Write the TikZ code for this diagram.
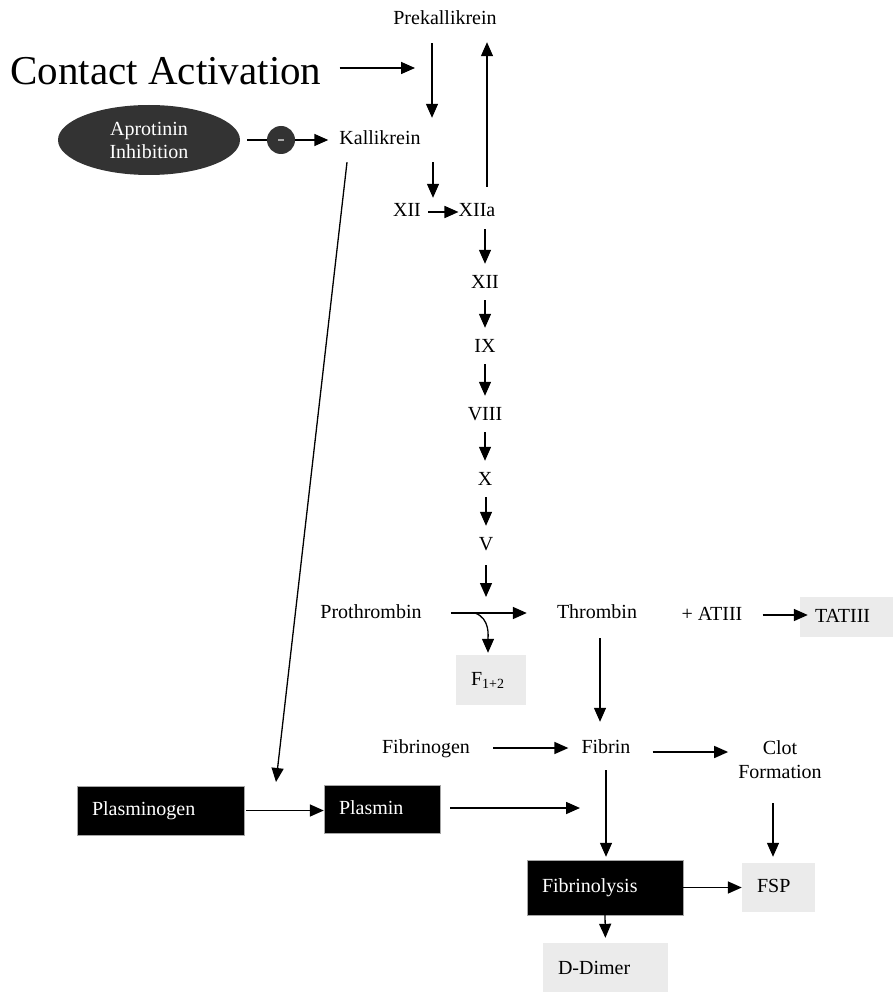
\documentclass[tikz,border=0pt]{standalone}
\usepackage{fontspec}
\setmainfont{Liberation Serif}
\usepackage{xcolor}
\usepackage{tikz}
\usetikzlibrary{shapes.geometric, arrows.meta, positioning}
\definecolor{inhibgray}{HTML}{333333}
\definecolor{minusgray}{HTML}{A8A8A8}
\definecolor{productbox}{HTML}{EBEBEB}

\begin{document}
\begin{tikzpicture}[x=1pt, y=-1pt,
    factor/.style={font=\fontsize{20}{24}\selectfont, inner sep=0pt, text height=14pt, text depth=4pt},
    darkbox/.style={factor, draw=gray!70, fill=black, text=white, align=left, inner xsep=15pt},
    lightbox/.style={factor, fill=productbox, align=left, inner xsep=15pt},
    flow/.style={-{Triangle[length=14pt, width=12pt]}, line width=1.6pt},
    thinflow/.style={flow, line width=1.3pt}
]
\fill[white] (0,0) rectangle (893,992);
\useasboundingbox (0,0) rectangle (893,992);

\node[inner sep=0pt, font=\fontsize{41}{48}\selectfont] (ca) at (166,71) {Contact Activation};
\node[factor] (prek) at (445,20) {Prekallikrein};
\node[ellipse, fill=inhibgray, text=white, align=center, inner sep=0pt,
    minimum width=182pt, minimum height=70pt, font=\fontsize{20}{23}\selectfont] (apro) at (149,140) {Aprotinin\\Inhibition};
\node[circle, fill=inhibgray, minimum size=28pt, inner sep=0pt] (inh) at (281,140) {\textcolor{minusgray}{\rule{6pt}{2pt}}};
\node[factor] (kal) at (380,140) {Kallikrein};
\node[factor] (xii0) at (407,212) {XII};
\node[factor] (xiia) at (477,212) {XIIa};
\node[factor] (xii) at (485,283) {XII};
\node[factor] (ix) at (485,347) {IX};
\node[factor] (viii) at (485,415) {VIII};
\node[factor] (x) at (485,480) {X};
\node[factor] (v) at (486,545) {V};
\node[factor] (pro) at (371,613) {Prothrombin};
\node[factor] (thr) at (597,613) {Thrombin};
\node[factor] (at3) at (712,615) {+ ATIII};
\node[lightbox, text width=63pt, minimum height=40pt] (tat) at (846.5,617) {TATIII};
\node[lightbox, text width=40pt, minimum height=50pt] (f12) at (491,680) {F\textsubscript{1+2}};
\node[factor] (fbg) at (426,748) {Fibrinogen};
\node[factor] (fbn) at (606,748) {Fibrin};
\node[align=center, inner sep=0pt, font=\fontsize{20}{24}\selectfont] (clot) at (780,760) {Clot\\Formation};
\node[darkbox, text width=137pt, minimum height=49pt] (plg) at (160.5,810.5) {Plasminogen};
\node[darkbox, text width=86pt, minimum height=48pt] (pls) at (382,809) {Plasmin};
\node[darkbox, text width=126pt, minimum height=55pt] (fbl) at (605,887.5) {Fibrinolysis};
\node[lightbox, text width=43pt, minimum height=49pt] (fsp) at (778.5,887.5) {FSP};
\node[lightbox, text width=95pt, minimum height=52pt] (ddim) at (605.5,969) {D-Dimer};

\coordinate (caend) at (415,68);
\coordinate (vend) at (486,597);
\coordinate (split) at (475,613);
\coordinate (plgin) at (276,782);
\coordinate (plsend) at (580,808);

\draw[flow] ([xshift=18pt]ca.east |- caend) -- (caend);
\draw[thinflow] ([xshift=-13pt, yshift=-14pt]prek.south) -- ([xshift=52pt, yshift=13pt]kal.north);
\draw[thinflow] ([xshift=10pt, yshift=16pt]xiia.north) -- ([xshift=42pt, yshift=-13pt]prek.south);
\draw[line width=1.6pt, shorten <=7pt] (apro.east) -- (inh.west);
\draw[flow, shorten >=11pt] (inh.east) -- (kal.west);
\draw[thinflow] ([xshift=53pt, yshift=-13pt]kal.south) -- ([xshift=26pt, yshift=5pt]xii0.north);
\draw[flow, shorten <=7pt] (xii0.east) -- (xiia.west);
\foreach \from/\to in {xiia/xii, xii/ix, ix/viii, viii/x, x/v}
    \draw[thinflow, shorten <=8pt, shorten >=10pt] (\from.south -| \to.north) -- (\to.north);
\draw[thinflow, shorten <=11pt] (v.south) -- (vend);
\draw[flow, shorten <=29pt, shorten >=30pt] (pro) -- (thr);
\draw[thinflow] (split) to[out=-20, in=90] ([xshift=-3pt, yshift=2pt]f12.north);
\draw[flow, shorten <=20pt, shorten >=-8pt] (at3.east) -- (at3.east -| tat.west);
\draw[thinflow] ([xshift=3pt, yshift=-16pt]thr.south) -- ([xshift=-6pt, yshift=17pt]fbn.north);
\draw[flow, shorten <=23pt, shorten >=13pt] (fbg.east) -- (fbn.west);
\draw[flow, shorten <=22pt, shorten >=10pt] ([yshift=-4pt]fbn.east) -- ([yshift=-4pt]fbn.east -| clot.west);
\draw[thinflow, shorten <=13pt, shorten >=3pt] (fbn.south) -- (fbn.south |- fbl.north);
\draw[thinflow, shorten >=6pt] ([xshift=-7pt, yshift=-24pt]clot.south) -- ([xshift=-7pt]clot.south |- fsp.north);
\draw[flow] (fbl.east) -- (fbl.east -| fsp.west);
\draw[thinflow, shorten >=5pt] (fbl.south) -- (ddim.north);
\draw[flow, shorten <=2pt] (plg.east) -- (plg.east -| pls.west);
\draw[flow] ([xshift=10pt]pls.east |- plsend) -- (plsend);
\draw[thinflow] ([xshift=-33pt, yshift=-13pt]kal.south) -- (plgin);
\end{tikzpicture}
\end{document}
